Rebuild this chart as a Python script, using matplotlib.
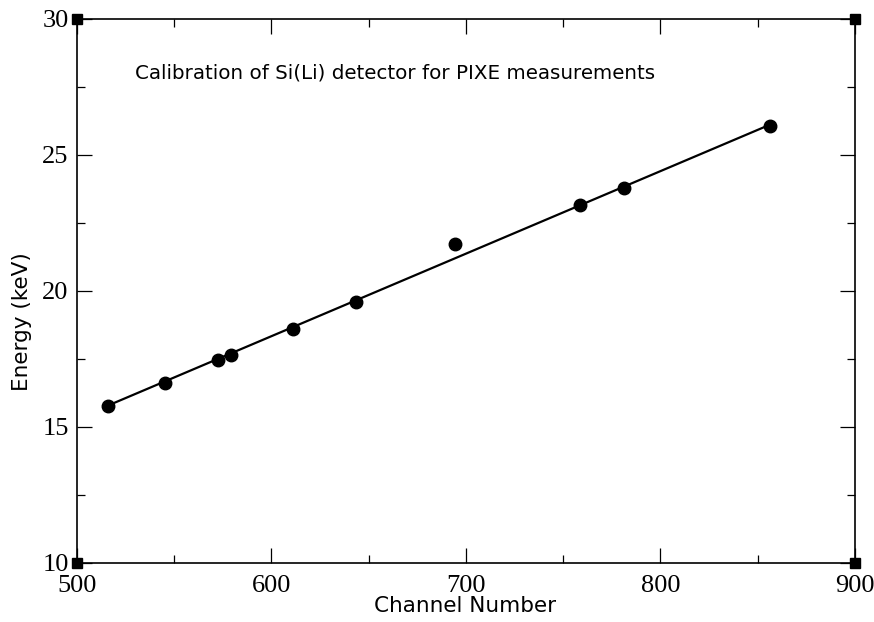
import matplotlib.pyplot as plt
from matplotlib.ticker import MultipleLocator

# channel / energy calibration points
channel = [516, 545, 572.5, 579, 611, 643.5, 694.5, 758.5, 781.5, 856.5]
energy = [15.76, 16.6, 17.47, 17.65, 18.62, 19.6, 21.74, 23.16, 23.8, 26.08]

# least-squares line end points
fit_channel = [516, 856.5]
fit_energy = [15.79, 26.12]

fig = plt.figure(figsize=(8.74, 6.22), dpi=100)
ax = fig.add_axes([0.0881, 0.0949, 0.8901, 0.8746])

ax.plot(fit_channel, fit_energy, color='black', lw=1.6)
ax.plot(channel, energy, 'o', color='black', ms=9)

ax.set_xlim(500, 900)
ax.set_ylim(10, 30)
ax.xaxis.set_major_locator(MultipleLocator(100))
ax.xaxis.set_minor_locator(MultipleLocator(50))
ax.yaxis.set_major_locator(MultipleLocator(5))
ax.yaxis.set_minor_locator(MultipleLocator(2.5))
ax.tick_params(which='both', direction='in', top=True, right=True, width=0.9)
ax.tick_params(which='major', length=11)
ax.tick_params(which='minor', length=5.5)
ax.tick_params(axis='x', which='major', pad=9)
ax.tick_params(axis='y', which='major', pad=6)
for lab in ax.get_xticklabels() + ax.get_yticklabels():
    lab.set_family('Liberation Serif')
    lab.set_fontsize(19)
for sp in ax.spines.values():
    sp.set_linewidth(1.2)

# square markers on the frame corners
ax.plot([0, 1, 0, 1], [0, 0, 1, 1], 's', color='black', ms=7,
        transform=ax.transAxes, clip_on=False)

ax.set_xlabel('Channel Number', family='DejaVu Sans', fontsize=15.5)
ax.set_ylabel('Energy (keV)', family='DejaVu Sans', fontsize=15.5)
ax.xaxis.set_label_coords(0.499, -0.06)
ax.yaxis.set_label_coords(-0.058, 0.443)
ax.text(0.074, 0.9, 'Calibration of Si(Li) detector for PIXE measurements',
        transform=ax.transAxes, family='DejaVu Sans', fontsize=14.3, va='center')

fig.savefig('out.png', dpi=100)
